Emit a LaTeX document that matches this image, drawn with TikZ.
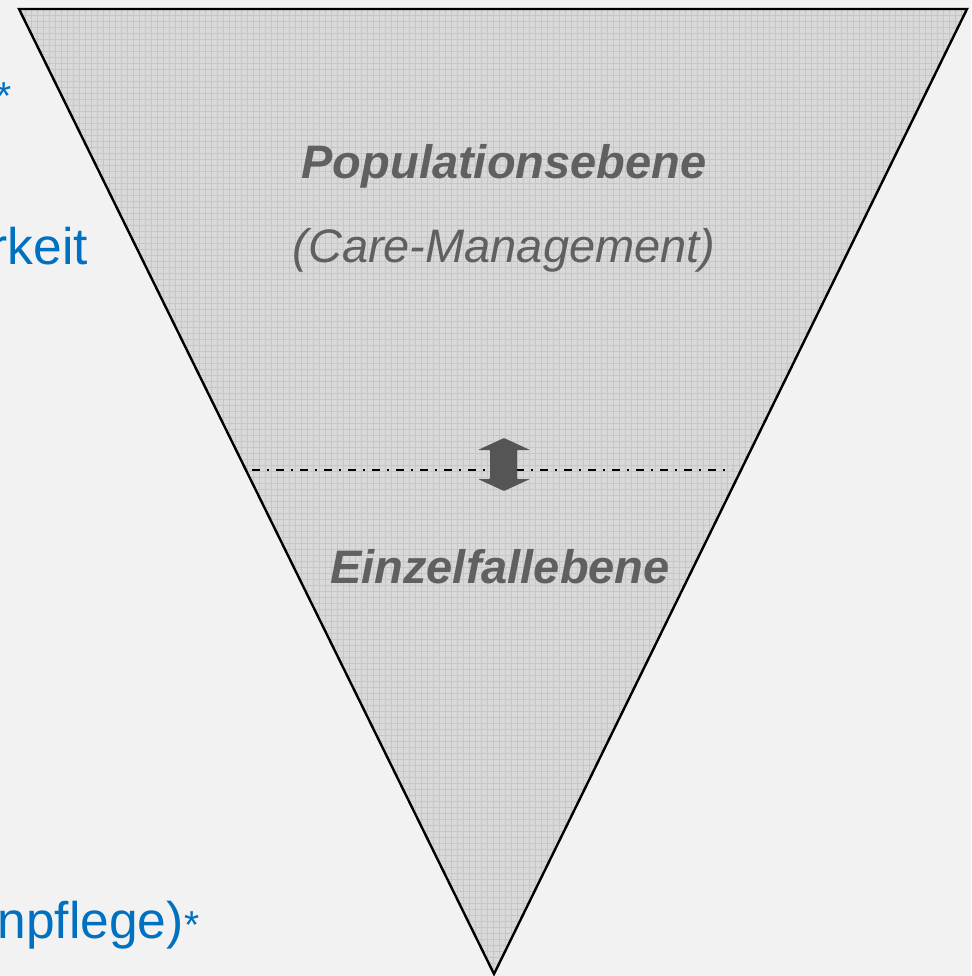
\documentclass[tikz,border=0pt]{standalone}
\usepackage{fontspec}
\setmainfont{Liberation Sans}
\definecolor{bgc}{HTML}{F2F2F2}
\definecolor{trifill}{HTML}{D9D9D9}
\definecolor{gridc}{HTML}{C6C6C6}
\definecolor{textgrey}{HTML}{606060}
\definecolor{arrowc}{HTML}{555555}
\definecolor{blueC}{HTML}{0070C0}
\tikzset{
  greytext/.style={text=textgrey, inner sep=0pt, anchor=base},
  bluetext/.style={text=blueC, inner sep=0pt, anchor=base east, font=\fontsize{51.5}{60}\selectfont},
  bluestar/.style={text=blueC, inner sep=0pt, anchor=base west, font=\fontsize{39}{46}\selectfont},
  gridline/.style={draw=gridc, line width=0.6pt},
  tri/.style={draw=black, line width=2.4pt, line join=miter},
  levelline/.style={draw=black, line width=2pt, dash pattern=on 8pt off 7pt on 2pt off 7pt},
  dblarrow/.style={fill=arrowc, rounded corners=0.8pt}
}
\begin{document}
\begin{tikzpicture}[x=1pt,y=-1pt]
\fill[bgc] (0,0) rectangle (971,976);
\useasboundingbox (0,0) rectangle (971,976);
\coordinate (TL) at (19,9);
\coordinate (TR) at (967,9);
\coordinate (B) at (494,974);
\begin{scope}
  \clip (TL) -- (TR) -- (B) -- cycle;
  \fill[trifill] (0,0) rectangle (971,976);
  \foreach \i in {1,7,...,971} \draw[gridline] (\i,0) -- (\i,976);
  \foreach \j in {3,9,...,976} \draw[gridline] (0,\j) -- (971,\j);
\end{scope}
\draw[tri] (TL) -- (TR) -- (B) -- cycle;
\coordinate (LL) at (252,470);
\coordinate (LR) at (732,470);
\draw[levelline] (LL) -- (LR);
\fill[dblarrow] (504,438) -- (530,450) -- (517,450) -- (517,479) -- (530,479) -- (504,491)
  -- (478,479) -- (490,479) -- (490,450) -- (478,450) -- cycle;
\node[greytext, font=\fontsize{47}{56}\selectfont\bfseries\itshape] (pop) at (504,179) {Populationsebene};
\node[greytext, font=\fontsize{47}{56}\selectfont\itshape] (care) at (504,262) {(Care-Management)};
\node[greytext, font=\fontsize{47}{56}\selectfont\bfseries\itshape] (einz) at (500,583) {Einzelfallebene};
\node[bluestar, anchor=base east] (star1) at (12,110) {*};
\node[bluetext] (rkeit) at (88,264) {rkeit};
\node[bluetext] (npfl) at (184,938) {npflege)};
\node[bluestar] (star2) at (npfl.base east) {*};
\end{tikzpicture}
\end{document}
